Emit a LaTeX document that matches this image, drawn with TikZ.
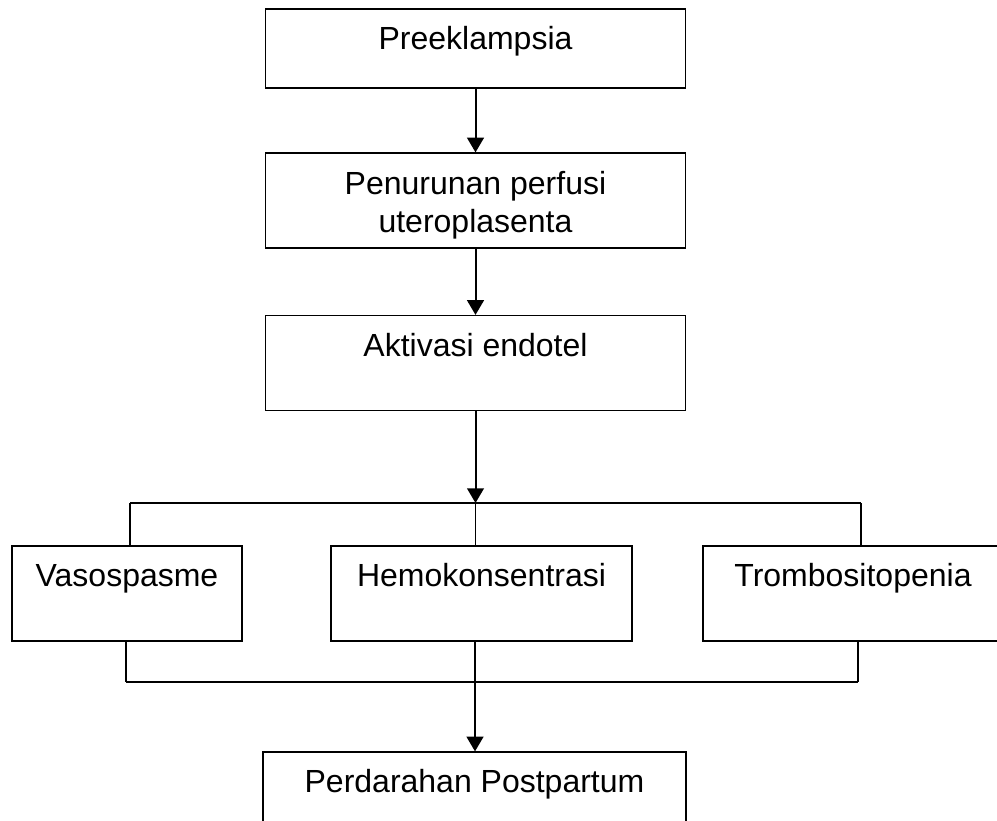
\documentclass[tikz,border=0pt]{standalone}
\usepackage{fontspec}
\setmainfont{Liberation Sans}
\usetikzlibrary{arrows.meta,positioning}

\begin{document}
\begin{tikzpicture}[
  x=0.75pt, y=-0.75pt,
  >={Triangle[length=11pt,width=12.5pt]},
  every node/.style={font=\fontsize{24}{28.5}\selectfont},
  procbox/.style={draw,line width=0.9pt,inner sep=0pt,align=center,
    minimum width=315pt,text height=30.5pt,text depth=40.75pt},
  flow/.style={->,line width=1.5pt},
  bar/.style={line width=1.5pt},
  link/.style={line width=0.9pt}
]
  \clip (0,0) rectangle (997,821);

  \node[procbox,text depth=28.75pt] (pre) at (475.5,48.5) {Preeklampsia};
  \node[procbox,text height=59.25pt,text depth=12pt] (perfusi) at (475.5,200.5)
    {Penurunan perfusi\\uteroplasenta};
  \node[procbox] (endotel) at (475.5,363) {Aktivasi endotel};

  \node[procbox,minimum width=172.5pt] (vaso) at (127,593.5) {Vasospasme};
  \node[procbox,minimum width=225.75pt] (hemo) at (481.5,593.5) {Hemokonsentrasi};
  \node[procbox,minimum width=225pt] (trombo) at (853,593.5) {Trombositopenia};

  \node[procbox,minimum width=317.25pt] (pph) at (474.5,799.5) {Perdarahan Postpartum};

  % branching
  \coordinate (split) at (475.5,503);
  \coordinate (splitL) at (130,503);
  \coordinate (splitR) at (861,503);
  \coordinate (merge) at (475,682);
  \coordinate (mergeL) at (126,682);
  \coordinate (mergeR) at (858,682);

  \draw[flow] (pre) -- (perfusi);
  \draw[flow] (perfusi) -- (endotel);
  \draw[flow] (endotel) -- (split);

  \draw[bar] (splitL) -- (splitR);
  \draw[link] (splitL) -- (splitL |- vaso.north);
  \draw[link] (split) -- (split |- hemo.north);
  \draw[link] (splitR) -- (splitR |- trombo.north);

  \draw[link] (vaso.south -| mergeL) -- (mergeL);
  \draw[link] (hemo.south -| merge) -- (merge);
  \draw[link] (trombo.south -| mergeR) -- (mergeR);
  \draw[bar] (mergeL) -- (mergeR);

  \draw[flow] (merge) -- (merge |- pph.north);
\end{tikzpicture}
\end{document}
